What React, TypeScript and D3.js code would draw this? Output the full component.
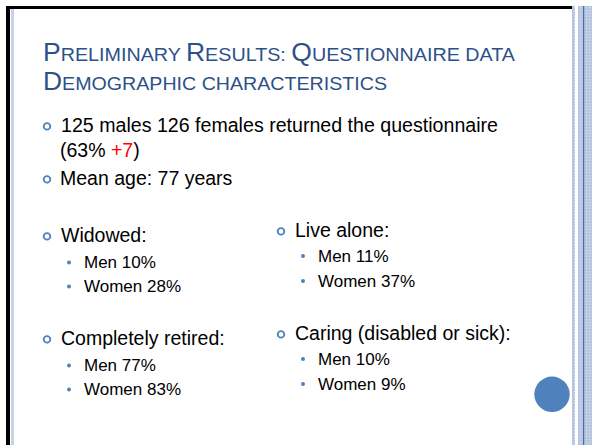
import React from 'react';
import * as d3 from 'd3';

// slide content
const titleLines = [
  [['P', 1], ['RELIMINARY ', 0], ['R', 1], ['ESULTS: ', 0], ['Q', 1], ['UESTIONNAIRE DATA', 0]],
  [['D', 1], ['EMOGRAPHIC CHARACTERISTICS', 0]],
];
const categories = ['Widowed:', 'Live alone:', 'Completely retired:', 'Caring (disabled or sick):'];
const menValues = [10, 11, 77, 10];
const womenValues = [28, 37, 83, 9];
const males = 125;
const females = 126;
const responseRate = 63;
const responseDelta = 7;
const meanAge = 77;

const W = 592;
const H = 445;
const blue = '#4f81bd';
const titleBlue = '#2c5189';
const font = '"Liberation Sans", Arial, sans-serif';

export default function App() {
  // rows of the two-column block: [column, row]
  const colX = d3.scaleOrdinal<number, number>().domain([0, 1]).range([47, 281]);
  const headY = (col: number, row: number) => (col === 0 ? [242, 345][row] : [237, 340][row]);
  const subGap = (col: number) => (col === 0 ? 24 : 25);
  const subFirst = (col: number) => (col === 0 ? 26 : 24.7);

  const ring = (x: number, y: number, key: string) => (
    <circle key={key} cx={x} cy={y - 5.6} r={3.3} fill="none" stroke={blue} strokeWidth={1.8} />
  );

  const groups = categories.map((c, i) => {
    const col = i % 2;
    const row = Math.floor(i / 2);
    const x = colX(col);
    const y = headY(col, row);
    const subs = [`Men ${menValues[i]}%`, `Women ${womenValues[i]}%`];
    return (
      <g key={c}>
        {ring(x, y, 'r')}
        <text x={x + 14} y={y} fontSize={19.5} fill="#000">{c}</text>
        {subs.map((s, j) => {
          const sy = y + subFirst(col) + j * subGap(col);
          return (
            <g key={s}>
              <circle cx={x + 22} cy={sy - 5.6} r={2} fill={blue} />
              <text x={x + 37} y={sy} fontSize={17} fill="#000">{s}</text>
            </g>
          );
        })}
      </g>
    );
  });

  return (
    <svg width={W} height={H} style={{ position: 'fixed', left: 0, top: 0, fontFamily: font }}>
      <defs>
        <pattern id="dots" width={3} height={3} patternUnits="userSpaceOnUse">
          <rect width={3} height={3} fill="#b7c7e2" />
          <rect x={1} y={1} width={1} height={1} fill="#dfe6f2" />
        </pattern>
      </defs>
      <rect width={W} height={H} fill="#fff" />
      {/* frame */}
      <rect x={6} y={6} width={566} height={3} fill="#000" />
      <rect x={6} y={6} width={4} height={H} fill="#000" />
      <rect x={11} y={9} width={3} height={H} fill="#c6d3e8" />
      <rect x={572} y={6} width={3} height={H} fill="url(#dots)" />
      <rect x={578} y={6} width={14} height={H} fill="url(#dots)" />
      <rect x={583} y={6} width={1.2} height={H} fill="#4a6ea6" />

      {/* title */}
      {titleLines.map((line, i) => (
        <text key={i} x={43} y={61 + i * 29} fill={titleBlue} textLength={[472, 344][i]} lengthAdjust="spacingAndGlyphs">
          {line.map(([t, big], j) => (
            <tspan key={j} fontSize={big ? 25 : 18.6}>{t as string}</tspan>
          ))}
        </text>
      ))}

      {/* top bullets */}
      {ring(47, 132, 'b1')}
      <text x={61} y={132} fontSize={19.5} textLength={437} lengthAdjust="spacingAndGlyphs">
        {`${males} males ${females} females returned the questionnaire`}
      </text>
      <text x={60} y={157} fontSize={19.5}>
        {`(${responseRate}% `}<tspan fill="#ff0000">{`+${responseDelta}`}</tspan>)
      </text>
      {ring(47, 185, 'b2')}
      <text x={60} y={185} fontSize={19.5}>{`Mean age: ${meanAge} years`}</text>

      {groups}

      <circle cx={552} cy={394.3} r={17.7} fill={blue} />
    </svg>
  );
}
